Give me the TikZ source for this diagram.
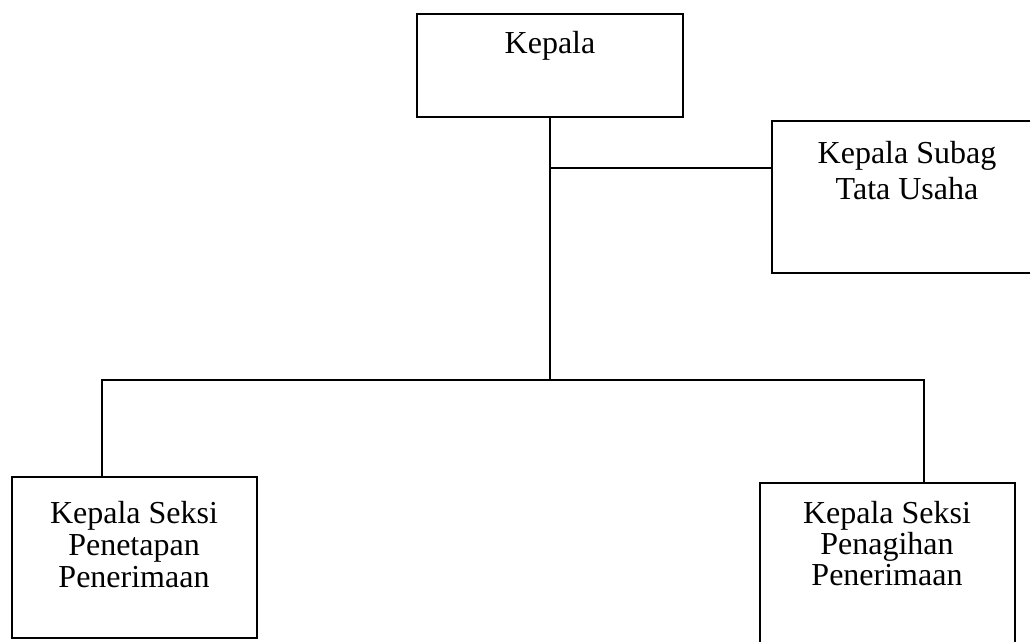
\documentclass[tikz,border=0pt]{standalone}
\usepackage{fontspec}
\setmainfont{Liberation Serif}
\begin{document}
\begin{tikzpicture}[x=1pt,y=-1pt,
  box/.style={draw, line width=1.2pt, rectangle, inner sep=0pt},
  lbl/.style={inner sep=0pt, align=center, anchor=base},
  conn/.style={line width=1.2pt}]
\useasboundingbox (0,0) rectangle (1030,642);
\clip (0,0) rectangle (1030,642);
% boxes
\node[box, minimum width=266pt, minimum height=103pt] (kepala) at (550,65.5) {};
\node[box, minimum width=268pt, minimum height=152pt] (subag) at (906,197) {};
\node[box, minimum width=245pt, minimum height=161pt] (seksiA) at (134.5,557.5) {};
\node[box, minimum width=255pt, minimum height=170pt] (seksiB) at (887.5,568) {};
% texts (anchor base = baseline of the last line)
\node[lbl, font=\fontsize{32}{36}\selectfont] (tkepala) at (550,53) {Kepala};
\node[lbl, font=\fontsize{32}{36}\selectfont] (tsubag) at (907,199) {Kepala Subag\\Tata Usaha};
\node[lbl, font=\fontsize{32}{32}\selectfont] (tseksiA) at (134,587) {Kepala Seksi\\Penetapan\\Penerimaan};
\node[lbl, font=\fontsize{32}{31}\selectfont] (tseksiB) at (887,585) {Kepala Seksi\\Penagihan\\Penerimaan};
% junctions
\coordinate (t1) at (550,168);
\coordinate (j1) at (550,380);
\coordinate (jl) at (102,380);
\coordinate (jr) at (924,380);
% connectors
\draw[conn] (kepala.south) -- (j1);
\draw[conn] (t1) -- (t1 -| subag.west);
\draw[conn] (jl |- seksiA.north) -- (jl) -- (jr) -- (jr |- seksiB.north);
\end{tikzpicture}
\end{document}
